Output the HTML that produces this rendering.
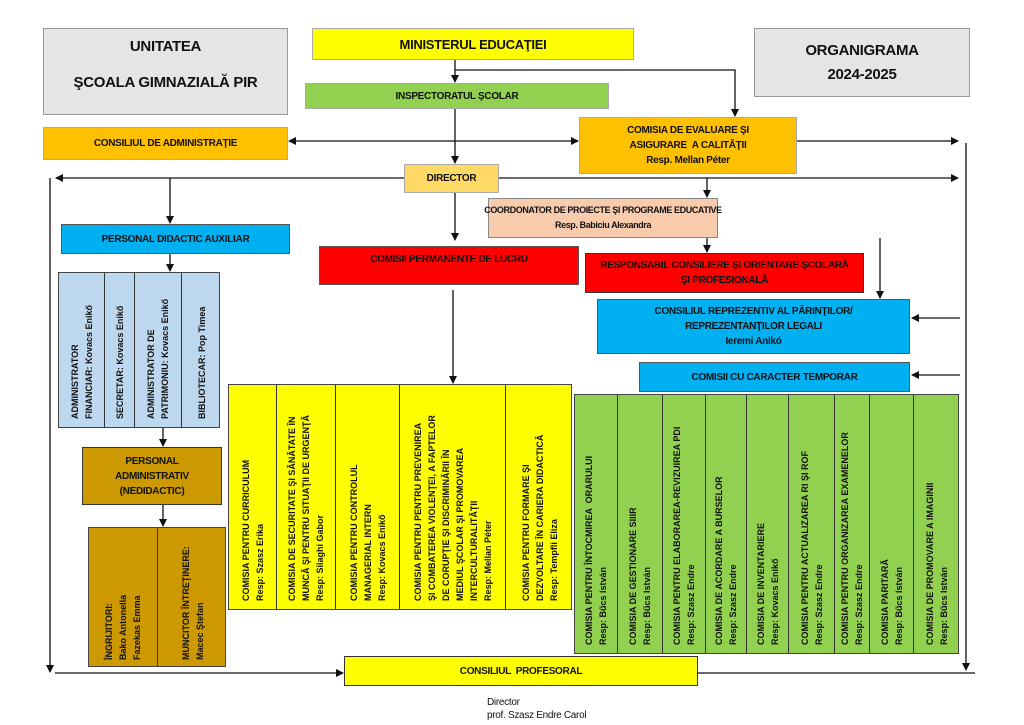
<!DOCTYPE html>
<html><head><meta charset="utf-8"><style>
*{margin:0;padding:0;box-sizing:border-box}
body{width:1024px;height:725px;background:#fff;position:relative;overflow:hidden;font-family:"Liberation Sans",sans-serif;font-weight:bold;color:#111}
.b{position:absolute;border:1.5px solid #555;display:flex;flex-direction:column;align-items:center;justify-content:center;text-align:center;font-size:10px;line-height:15px;letter-spacing:-0.3px;white-space:nowrap}
.v{position:absolute;border:1px solid #444;}
.v div{position:absolute;top:0;bottom:0;border-right:1px solid #333;display:flex;justify-content:center;}
.v span{writing-mode:vertical-rl;transform:rotate(180deg);font-size:9px;line-height:14px;text-align:left;padding-top:8px;white-space:nowrap}
svg{position:absolute;left:0;top:0}
</style></head><body>
<div class="b" style="left:43px;top:28px;width:245px;height:87px;background:#e5e5e5;border-color:#999;font-size:15px;line-height:36px;justify-content:flex-start;padding-top:0px;">UNITATEA<br>ŞCOALA GIMNAZIALĂ PIR</div>
<div class="b" style="left:312px;top:28px;width:322px;height:32px;background:#ffff00;border-color:#aaa;font-size:13px">MINISTERUL EDUCAŢIEI</div>
<div class="b" style="left:754px;top:28px;width:216px;height:69px;background:#e5e5e5;border-color:#999;font-size:15px;line-height:24px">ORGANIGRAMA<br>2024-2025</div>
<div class="b" style="left:305px;top:83px;width:304px;height:26px;background:#92d050;border-color:#aaa">INSPECTORATUL ŞCOLAR</div>
<div class="b" style="left:43px;top:127px;width:245px;height:33px;background:#ffc000;border-color:#aaa">CONSILIUL DE ADMINISTRAŢIE</div>
<div class="b" style="left:579px;top:117px;width:218px;height:57px;background:#ffc000;border-color:#aaa">COMISIA DE EVALUARE ŞI<br>ASIGURARE &nbsp;A CALITĂŢII<br>Resp. Mellan Péter</div>
<div class="b" style="left:404px;top:164px;width:95px;height:29px;background:#ffd966;border-color:#aaa">DIRECTOR</div>
<div class="b" style="left:488px;top:198px;width:230px;height:40px;background:#f8cbad;border-color:#888;font-size:9px;letter-spacing:-0.4px">COORDONATOR DE PROIECTE ŞI PROGRAME EDUCATIVE<br>Resp. Babiciu Alexandra</div>
<div class="b" style="left:61px;top:224px;width:229px;height:30px;background:#00b0f0;border-color:#555">PERSONAL DIDACTIC AUXILIAR</div>
<div class="b" style="left:319px;top:246px;width:260px;height:39px;background:#ff0000;border-color:#555;justify-content:flex-start;padding-top:5px">COMISII PERMANENTE DE LUCRU</div>
<div class="b" style="left:585px;top:253px;width:279px;height:40px;background:#ff0000;border-color:#333;color:#111">RESPONSABIL CONSILIERE ŞI ORIENTARE ŞCOLARĂ<br>ŞI PROFESIONALĂ</div>
<div class="b" style="left:597px;top:299px;width:313px;height:55px;background:#00b0f0;border-color:#555">CONSILIUL REPREZENTIV AL PĂRINŢILOR/<br>REPREZENTANŢILOR LEGALI<br>Ieremi Anikó</div>
<div class="b" style="left:639px;top:362px;width:271px;height:30px;background:#00b0f0;border-color:#555">COMISII CU CARACTER TEMPORAR</div>
<div class="b" style="left:82px;top:447px;width:140px;height:58px;background:#cc9900;border-color:#333;font-size:10px">PERSONAL<br>ADMINISTRATIV<br>(NEDIDACTIC)</div>
<div class="b" style="left:344px;top:656px;width:354px;height:30px;background:#ffff00;border-color:#333">CONSILIUL &nbsp;PROFESORAL</div>

<div class="v" style="left:58px;top:272px;width:162px;height:156px;background:#bdd7ee">
<div style="left:0;width:46px"><span>ADMINISTRATOR<br>FINANCIAR: Kovacs Enikő</span></div>
<div style="left:46px;width:30px"><span>SECRETAR: Kovacs Enikő</span></div>
<div style="left:76px;width:47px"><span>ADMINISTRATOR DE<br>PATRIMONIU: Kovacs Enikő</span></div>
<div style="left:123px;width:39px;border-right:none"><span>BIBLIOTECAR: Pop Timea</span></div>
</div>
<div class="v" style="left:88px;top:527px;width:138px;height:140px;background:#cc9900">
<div style="left:0;width:69px"><span style="padding-top:6px">ÎNGRIJITORI:<br>Bako Antonella<br>Fazekas Emma</span></div>
<div style="left:69px;width:69px;border-right:none"><span style="padding-top:6px">MUNCITOR ÎNTREŢINERE:<br>Macec Ştefan</span></div>
</div>
<div class="v" style="left:228px;top:384px;width:344px;height:226px;background:#ffff00">
<div style="left:0;width:48px"><span>COMISIA PENTRU CURRICULUM<br>Resp: Szasz Erika</span></div>
<div style="left:48px;width:59px"><span>COMISIA DE SECURITATE ŞI SĂNĂTATE ÎN<br>MUNCĂ ŞI PENTRU SITUAŢII DE URGENŢĂ<br>Resp: Silaghi Gabor</span></div>
<div style="left:107px;width:64px"><span>COMISIA PENTRU CONTROLUL<br>MANAGERIAL INTERN<br>Resp: Kovacs Enikő</span></div>
<div style="left:171px;width:106px"><span>COMISIA PENTRU PENTRU PREVENIREA<br>ŞI COMBATEREA VIOLENŢEI, A FAPTELOR<br>DE CORUPŢIE ŞI DISCRIMINĂRII ÎN<br>MEDIUL ŞCOLAR ŞI PROMOVAREA<br>INTERCULTURALITĂŢII<br>Resp: Mellan Péter</span></div>
<div style="left:277px;width:67px;border-right:none"><span>COMISIA PENTRU FORMARE ŞI<br>DEZVOLTARE ÎN CARIERA DIDACTICĂ<br>Resp: Tempfli Eliza</span></div>
</div>
<div class="v" style="left:574px;top:394px;width:385px;height:260px;background:#92d050">
<div style="left:0;width:43px"><span>COMISIA PENTRU ÎNTOCMIREA &nbsp;ORARULUI<br>Resp: Bűcs István</span></div>
<div style="left:43px;width:45px"><span>COMISIA DE GESTIONARE SIIIR<br>Resp: Bűcs István</span></div>
<div style="left:88px;width:43px"><span>COMISIA PENTRU ELABORAREA-REVIZUIREA PDI<br>Resp: Szasz Endre</span></div>
<div style="left:131px;width:41px"><span>COMISIA DE ACORDARE A BURSELOR<br>Resp: Szasz Endre</span></div>
<div style="left:172px;width:42px"><span>COMISIA DE INVENTARIERE<br>Resp: Kovacs Enikő</span></div>
<div style="left:214px;width:46px"><span>COMISIA PENTRU ACTUALIZAREA RI ŞI ROF<br>Resp: Szasz Endre</span></div>
<div style="left:260px;width:35px"><span>COMISIA PENTRU ORGANIZAREA EXAMENELOR<br>Resp: Szasz Endre</span></div>
<div style="left:295px;width:44px"><span>COMISIA PARITARĂ<br>Resp: Bűcs István</span></div>
<div style="left:339px;width:46px;border-right:none"><span>COMISIA DE PROMOVARE A IMAGINII<br>Resp: Bűcs István</span></div>
</div>

<div style="position:absolute;left:487px;top:696px;font-weight:normal;font-size:10px;line-height:13px;letter-spacing:-0.3px">Director<br>prof. Szasz Endre Carol</div>

<svg width="1024" height="725" viewBox="0 0 1024 725">
<defs><marker id="a" markerWidth="8" markerHeight="8" refX="7" refY="4" orient="auto" markerUnits="userSpaceOnUse"><path d="M0,0 L8,4 L0,8 z" fill="#111"/></marker></defs>
<g stroke="#111" stroke-width="1.3" fill="none">
<line x1="455" y1="60" x2="455" y2="82" marker-end="url(#a)"/>
<polyline points="455,70 735,70 735,116" marker-end="url(#a)"/>
<line x1="455" y1="109" x2="455" y2="163" marker-end="url(#a)"/>
<line x1="420" y1="141" x2="289" y2="141" marker-end="url(#a)"/>
<line x1="420" y1="141" x2="578" y2="141" marker-end="url(#a)"/>
<line x1="797" y1="141" x2="958" y2="141" marker-end="url(#a)"/>
<line x1="404" y1="178" x2="56" y2="178" marker-end="url(#a)"/>
<line x1="499" y1="178" x2="958" y2="178" marker-end="url(#a)"/>
<line x1="50" y1="178" x2="50" y2="672" marker-end="url(#a)"/>
<line x1="966" y1="143" x2="966" y2="670" marker-end="url(#a)"/>
<line x1="55" y1="673" x2="343" y2="673" marker-end="url(#a)"/>
<line x1="698" y1="673" x2="975" y2="673"/>
<line x1="170" y1="178" x2="170" y2="223" marker-end="url(#a)"/>
<line x1="455" y1="193" x2="455" y2="240" marker-end="url(#a)"/>
<line x1="707" y1="178" x2="707" y2="197" marker-end="url(#a)"/>
<line x1="707" y1="238" x2="707" y2="252" marker-end="url(#a)"/>
<line x1="880" y1="238" x2="880" y2="298" marker-end="url(#a)"/>
<line x1="960" y1="318" x2="912" y2="318" marker-end="url(#a)"/>
<line x1="960" y1="375" x2="912" y2="375" marker-end="url(#a)"/>
<line x1="170" y1="254" x2="170" y2="271" marker-end="url(#a)"/>
<line x1="163" y1="428" x2="163" y2="446" marker-end="url(#a)"/>
<line x1="163" y1="505" x2="163" y2="526" marker-end="url(#a)"/>
<line x1="453" y1="290" x2="453" y2="383" marker-end="url(#a)"/>
</g></svg>
</body></html>
